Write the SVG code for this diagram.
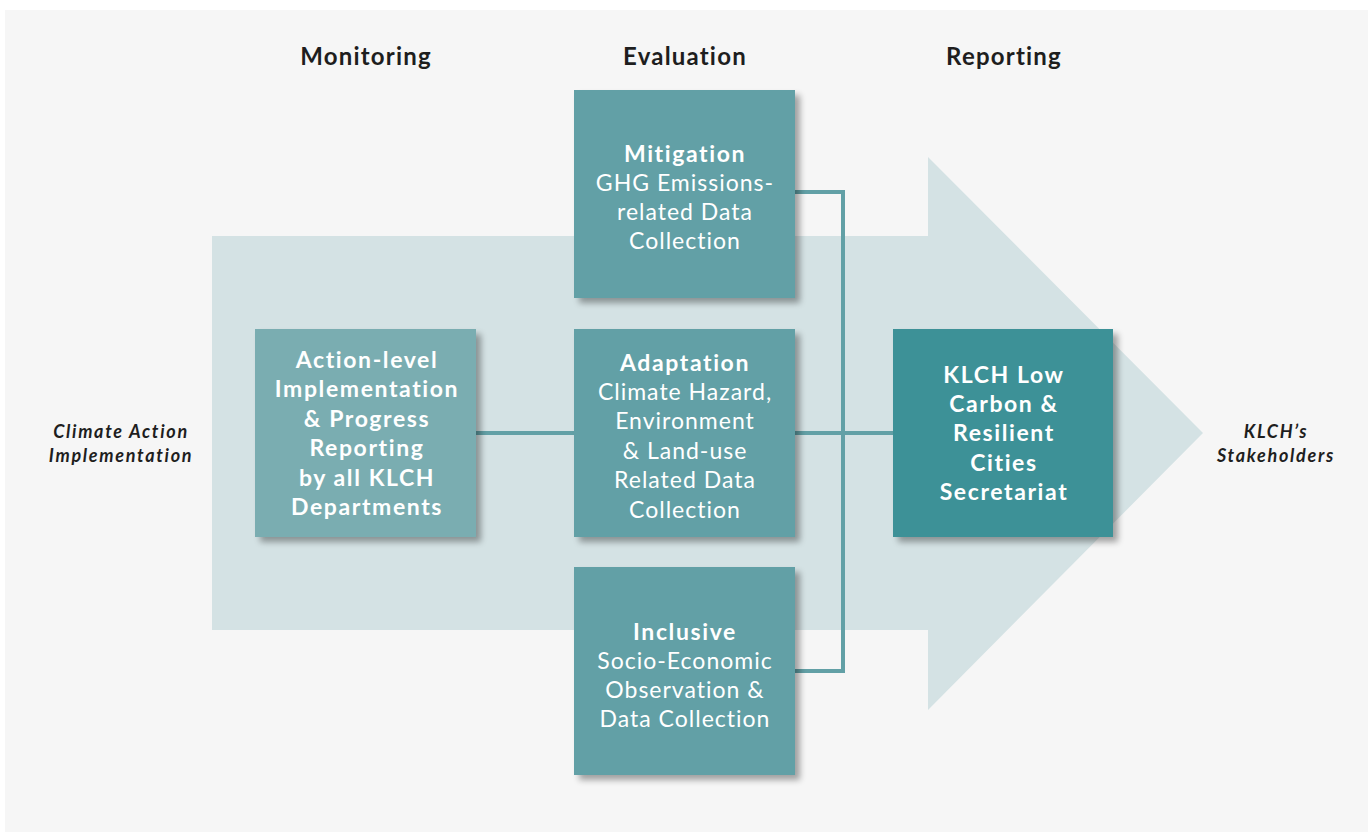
<svg xmlns="http://www.w3.org/2000/svg" width="1368" height="832" viewBox="0 0 1368 832">
<defs>
<filter id="sh" x="-10%" y="-10%" width="130%" height="130%">
<feGaussianBlur in="SourceAlpha" stdDeviation="3"/>
<feOffset dx="5" dy="5" result="b"/>
<feComponentTransfer><feFuncA type="linear" slope="0.35"/></feComponentTransfer>
<feMerge><feMergeNode/><feMergeNode in="SourceGraphic"/></feMerge>
</filter>
<style>
.hd{font-family:Lato,"Noto Sans",sans-serif;font-weight:700;font-size:24px;letter-spacing:1.2px;fill:#1e1e1e;text-anchor:middle}
.side{font-family:Lato,"Noto Sans",sans-serif;font-weight:700;font-style:italic;font-size:18px;letter-spacing:1.7px;fill:#1e1e1e;text-anchor:middle}
.bt{font-family:Lato,"Noto Sans",sans-serif;font-size:23px;letter-spacing:1px;fill:#ffffff;text-anchor:middle}
.b{font-weight:700;letter-spacing:1.6px}
.box{fill:#62a0a6;filter:url(#sh)}
.conn{fill:none;stroke:#62a0a6;stroke-width:4}
</style>
</defs>
<rect x="0" y="0" width="1368" height="832" fill="#ffffff"/>
<rect x="5" y="10" width="1363" height="822" fill="#f6f6f6"/>
<path d="M212 236 H928 V157 L1203 433 L928 710 V630 H212 Z" fill="#d4e2e4"/>
<text class="hd" x="366" y="65">Monitoring</text>
<text class="hd" x="685" y="65">Evaluation</text>
<text class="hd" x="1004" y="65">Reporting</text>
<text class="side" x="121" y="438">Climate Action</text>
<text class="side" x="121" y="462">Implementation</text>
<text class="side" x="1276" y="438">KLCH’s</text>
<text class="side" x="1276" y="462">Stakeholders</text>
<g id="connectors">
<path class="conn" d="M476 433 H574"/>
<path class="conn" d="M795 433 H893"/>
<path class="conn" d="M795 192 H843 V671 H795"/>
</g>
<g id="action">
<rect class="box" x="255" y="329" width="221" height="208" style="fill:#7aadb1"/>
<text class="bt b" x="367" y="368">Action-level</text>
<text class="bt b" x="367" y="397">Implementation</text>
<text class="bt b" x="367" y="427">&amp; Progress</text>
<text class="bt b" x="367" y="456">Reporting</text>
<text class="bt b" x="367" y="486">by all KLCH</text>
<text class="bt b" x="367" y="515">Departments</text>
</g>
<g id="mitigation">
<rect class="box" x="574" y="90" width="221" height="208"/>
<text class="bt b" x="685" y="162">Mitigation</text>
<text class="bt" x="685" y="191">GHG Emissions-</text>
<text class="bt" x="685" y="220">related Data</text>
<text class="bt" x="685" y="249">Collection</text>
</g>
<g id="adaptation">
<rect class="box" x="574" y="329" width="221" height="208"/>
<text class="bt b" x="685" y="371">Adaptation</text>
<text class="bt" x="685" y="400">Climate Hazard,</text>
<text class="bt" x="685" y="429">Environment</text>
<text class="bt" x="685" y="459">&amp; Land-use</text>
<text class="bt" x="685" y="488">Related Data</text>
<text class="bt" x="685" y="518">Collection</text>
</g>
<g id="inclusive">
<rect class="box" x="574" y="567" width="221" height="208"/>
<text class="bt b" x="685" y="640">Inclusive</text>
<text class="bt" x="685" y="669">Socio-Economic</text>
<text class="bt" x="685" y="698">Observation &amp;</text>
<text class="bt" x="685" y="727">Data Collection</text>
</g>
<g id="secretariat">
<rect class="box" x="893" y="329" width="220" height="208" style="fill:#3e9197"/>
<text class="bt b" x="1004" y="383">KLCH Low</text>
<text class="bt b" x="1004" y="412">Carbon &amp;</text>
<text class="bt b" x="1004" y="441">Resilient</text>
<text class="bt b" x="1004" y="471">Cities</text>
<text class="bt b" x="1004" y="500">Secretariat</text>
</g>
</svg>
